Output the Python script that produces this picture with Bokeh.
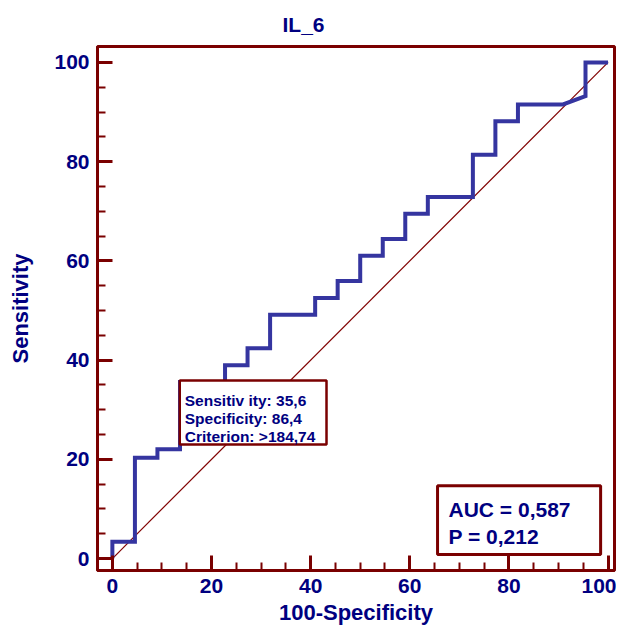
from bokeh.plotting import figure
from bokeh.models import BoxAnnotation, Label, SingleIntervalTicker, Range1d
from bokeh.embed import file_html
from bokeh.resources import INLINE

# ---- data (percent) ----
roc_fpr = [0, 0, 4.55, 4.55, 9.09, 9.09, 13.64, 13.64, 22.73, 22.73, 27.27, 27.27,
           31.82, 31.82, 40.91, 40.91, 45.45, 45.45, 50.0, 50.0, 54.55, 54.55,
           59.09, 59.09, 63.64, 63.64, 72.73, 72.73, 77.27, 77.27, 81.82, 81.82,
           90.91, 95.45, 95.45, 100]
roc_tpr = [0, 3.39, 3.39, 20.34, 20.34, 22.03, 22.03, 35.59, 35.59, 38.98, 38.98, 42.37,
           42.37, 49.15, 49.15, 52.54, 52.54, 55.93, 55.93, 61.02, 61.02, 64.41,
           64.41, 69.49, 69.49, 72.88, 72.88, 81.36, 81.36, 88.14, 88.14, 91.53,
           91.53, 93.22, 100, 100]
diag_x = [0, 100]
diag_y = [0, 100]
crit_sens = 35.6
crit_spec = 86.4
crit_label = ">184,74"
auc = 0.587
p_value = 0.212
title_text = "IL_6"
x_label = "100-Specificity"
y_label = "Sensitivity"

NAVY = "#000080"
MAROON = "#7a0000"
BLUE = "#3535a0"
FONT = "Liberation Sans"

def fmt(v, nd):
    return f"{v:.{nd}f}".replace(".", ",")

p = figure(width=616, height=628,
           x_range=Range1d(-3.0, 101.3), y_range=Range1d(-2.4, 103.2),
           output_backend="svg", toolbar_location=None,
           min_border_left=97, min_border_right=2, min_border_top=46, min_border_bottom=58,
           title=title_text)

p.title.text_font = FONT
p.title.text_font_size = "21px"
p.title.text_font_style = "bold"
p.title.text_color = NAVY
p.title.align = "left"
p.title.vertical_align = "top"
p.title.offset = 185
p.title.standoff = 18

p.grid.visible = False
p.outline_line_color = MAROON
p.outline_line_width = 3
p.outline_line_alpha = 1

for ax, lab in ((p.xaxis[0], x_label), (p.yaxis[0], y_label)):
    ax.ticker = SingleIntervalTicker(interval=20, num_minor_ticks=4)
    ax.axis_label = lab
    ax.axis_label_text_font = FONT
    ax.axis_label_text_font_size = "22px"
    ax.axis_label_text_font_style = "bold"
    ax.axis_label_text_color = NAVY
    ax.major_label_text_font = FONT
    ax.major_label_text_font_size = "21px"
    ax.major_label_text_font_style = "bold"
    ax.major_label_text_color = NAVY
    ax.axis_line_color = MAROON
    ax.axis_line_width = 3
    ax.major_tick_line_color = MAROON
    ax.major_tick_line_width = 3
    ax.minor_tick_line_color = MAROON
    ax.minor_tick_line_width = 2
    ax.major_tick_in = 15
    ax.major_tick_out = 0
    ax.minor_tick_in = 8
    ax.minor_tick_out = 0

p.xaxis.major_label_standoff = 8
p.xaxis.axis_label_standoff = 4
p.yaxis.major_label_standoff = 8
p.yaxis.axis_label_standoff = 18

# diagonal reference line
p.line(diag_x, diag_y, line_color="#800000", line_width=1.2)
# ROC curve
p.line(roc_fpr, roc_tpr, line_color=BLUE, line_width=4, line_join="miter")

# criterion box, anchored at the criterion point
cx = 100 - crit_spec
cy = crit_sens
p.add_layout(BoxAnnotation(left=cx, right=cx + 29.6, top=cy + 0.3, bottom=cy - 12.6,
                           fill_color="white", fill_alpha=1,
                           line_color=MAROON, line_width=2.5, line_alpha=1))
crit_lines = [f"Sensitiv ity: {fmt(crit_sens, 1)}",
              f"Specificity: {fmt(crit_spec, 1)}",
              f"Criterion: {crit_label}"]
for i, t in enumerate(crit_lines):
    p.add_layout(Label(x=cx, y=cy, x_offset=5, y_offset=-19 - 18 * i, text=t,
                       text_font=FONT, text_font_size="15.5px", text_font_style="bold",
                       text_color=NAVY, text_baseline="alphabetic"))

# AUC box
bl, br, bb, bt = 65.6, 98.5, 0.8, 14.7
p.add_layout(BoxAnnotation(left=bl, right=br, top=bt, bottom=bb,
                           fill_color="white", fill_alpha=1,
                           line_color=MAROON, line_width=3, line_alpha=1))
for i, t in enumerate([f"AUC = {fmt(auc, 3)}", f"P = {fmt(p_value, 3)}"]):
    p.add_layout(Label(x=bl, y=bt, x_offset=11, y_offset=-24 - 27 * i, text=t,
                       text_font=FONT, text_font_size="21px", text_font_style="bold",
                       text_color=NAVY, text_baseline="alphabetic"))

open("out.html", "w").write(file_html(p, INLINE))
